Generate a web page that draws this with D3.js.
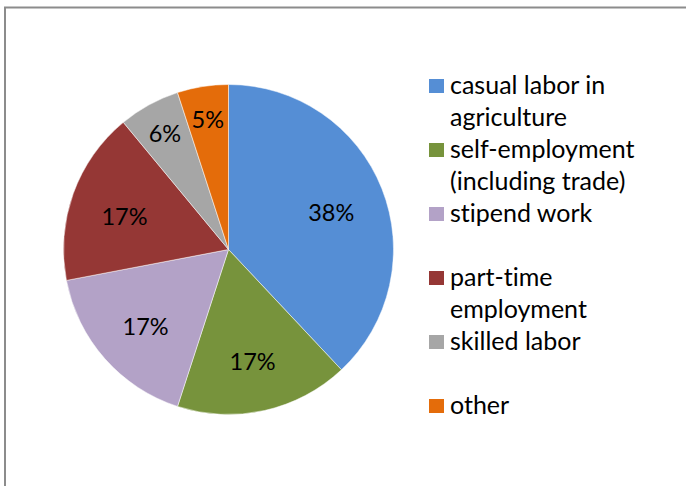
<!DOCTYPE html>
<html>
<head>
<meta charset="utf-8">
<script src="https://cdn.jsdelivr.net/npm/d3@7"></script>
<style>
  html, body { margin: 0; padding: 0; background: #fff; }
  svg { display: block; }
  text { font-family: Lato, "Open Sans", sans-serif; fill: #000; font-variant-ligatures: none; }
</style>
</head>
<body>
<svg id="chart" width="686" height="486"></svg>
<script>
// Employment categories and their shares (percent)
const categories = [
  "casual labor in agriculture",
  "self-employment (including trade)",
  "stipend work",
  "part-time employment",
  "skilled labor",
  "other"
];
const shares = [38, 17, 17, 17, 6, 5];
const colors = ["#558ed5", "#77933c", "#b3a2c7", "#953735", "#a6a6a6", "#e46c0a"];

const W = 686, H = 486;
const svg = d3.select("#chart");

// chart frame (top and left edges visible)
svg.append("path")
  .attr("d", `M5,${H} V7.5 H${W}`)
  .attr("fill", "none")
  .attr("stroke", "#8c8c8c")
  .attr("stroke-width", 2);

const cx = 228.5, cy = 249.5, R = 165;

const data = categories.map((c, i) => ({ name: c, value: shares[i], color: colors[i] }));

const pie = d3.pie().value(d => d.value).sort(null);
const arcs = pie(data);
const arc = d3.arc().innerRadius(0).outerRadius(R);

const g = svg.append("g").attr("transform", `translate(${cx},${cy})`);

g.selectAll("path.slice")
  .data(arcs)
  .join("path")
  .attr("class", "slice")
  .attr("d", arc)
  .attr("fill", d => d.data.color)
  .attr("stroke", "#fff")
  .attr("stroke-width", 0.5);

// percentage labels: small slices sit nearer the rim
const pctSize = 23.5;
g.selectAll("text.pct")
  .data(arcs)
  .join("text")
  .attr("class", "pct")
  .attr("transform", d => {
    const small = d.data.value < 10;
    const r = small ? R * 0.8 : R * 0.67;
    const a = (d.startAngle + d.endAngle) / 2;
    const shift = small ? 0 : 4;
    return `translate(${r * Math.sin(a)},${-r * Math.cos(a) + shift})`;
  })
  .attr("text-anchor", "middle")
  .attr("dy", pctSize * 0.36)
  .attr("font-size", pctSize)
  .text(d => d.data.value + "%");

// legend with wrapped entries
const legend = svg.append("g");
const legendSize = 25;
const lx = 429, textX = 450, firstBase = 94, slot = 64, lineH = 31.5, maxW = 186;

function wrap(str, size) {
  const probe = legend.append("text").attr("font-size", size);
  const words = str.split(" ");
  const lines = [];
  let cur = "";
  words.forEach(w => {
    const test = cur ? cur + " " + w : w;
    probe.text(test);
    if (probe.node().getComputedTextLength() > maxW && cur) {
      lines.push(cur);
      cur = w;
    } else {
      cur = test;
    }
  });
  lines.push(cur);
  probe.remove();
  return lines;
}

data.forEach((d, i) => {
  const base = firstBase + i * slot;
  legend.append("rect")
    .attr("x", lx).attr("y", base - 15)
    .attr("width", 15).attr("height", 14)
    .attr("fill", d.color);
  const t = legend.append("text")
    .attr("x", textX).attr("y", base)
    .attr("font-size", legendSize);
  wrap(d.name, legendSize).forEach((line, j) => {
    t.append("tspan").attr("x", textX).attr("y", base + j * lineH).text(line);
  });
});
</script>
</body>
</html>
